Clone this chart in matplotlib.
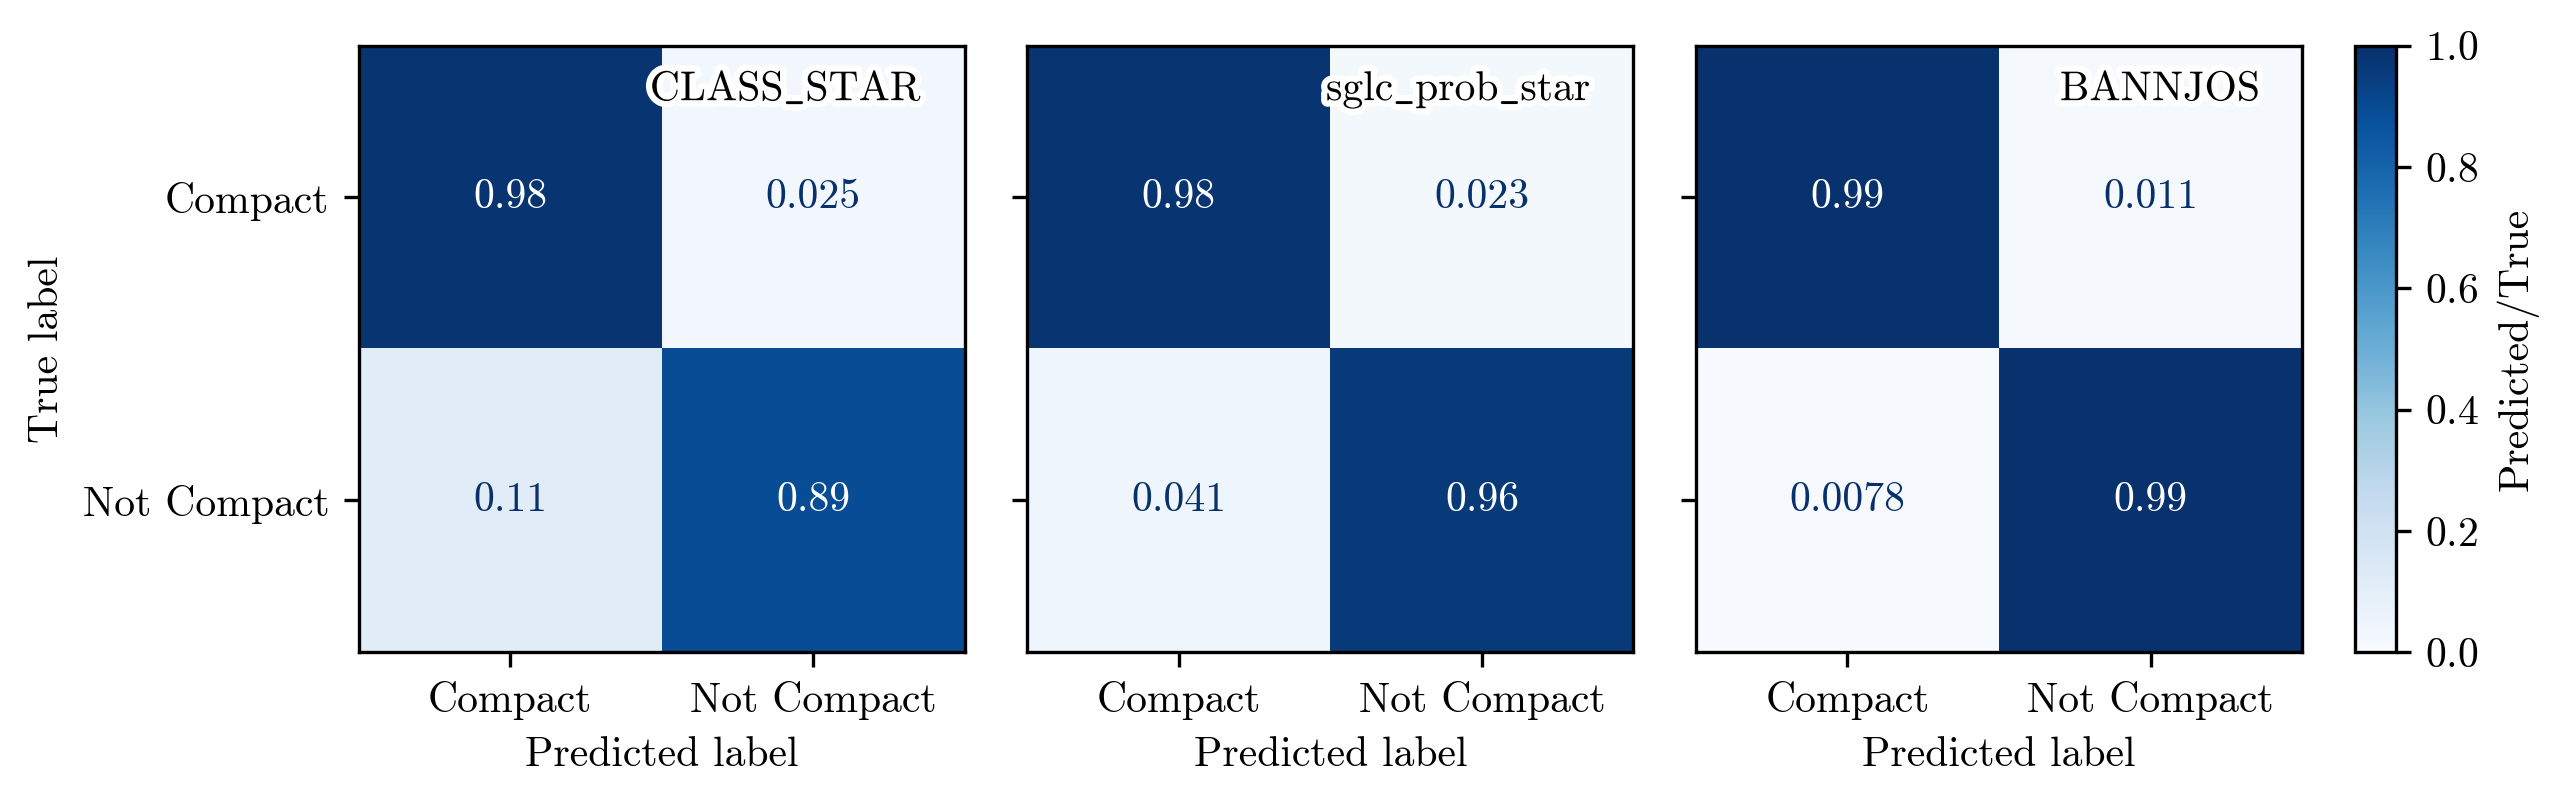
import numpy as np
import matplotlib
matplotlib.use("Agg")
import matplotlib.pyplot as plt
import matplotlib.patheffects as pe

plt.rcParams["font.family"] = ["cmr10", "DejaVu Serif"]
plt.rcParams["mathtext.fontset"] = "cm"
plt.rcParams["axes.formatter.use_mathtext"] = True
plt.rcParams["font.size"] = 10

classes = ["Compact", "Not Compact"]
names = ["CLASS_STAR", "sglc_prob_star", "BANNJOS"]

cm_class_star = np.array([[0.98, 0.025], [0.11, 0.89]])
cm_sglc = np.array([[0.98, 0.023], [0.041, 0.96]])
cm_bannjos = np.array([[0.99, 0.011], [0.0078, 0.99]])
matrices = [cm_class_star, cm_sglc, cm_bannjos]

cmap = plt.get_cmap("Blues")

fig = plt.figure(figsize=(2567 / 300, 803 / 300), dpi=300)
lefts = [0.139, 0.3995, 0.66]
axes = [fig.add_axes([l, 0.188, 0.2375, 0.755]) for l in lefts]

for i, (ax, cm, name) in enumerate(zip(axes, matrices, names)):
    im = ax.imshow(cm, cmap=cmap, vmin=0, vmax=1, interpolation="nearest")
    for r in range(cm.shape[0]):
        for c in range(cm.shape[1]):
            v = cm[r, c]
            col = "white" if v > 0.5 else cmap(1.0)
            ax.text(c, r, format(v, ".2g"), ha="center", va="center", color=col)
    ax.set_xticks(range(len(classes)))
    ax.set_xticklabels(classes)
    ax.set_yticks(range(len(classes)))
    if i == 0:
        ax.set_yticklabels(classes)
        ax.set_ylabel("True label")
    else:
        ax.set_yticklabels([])
    ax.set_xlabel("Predicted label")

    # model name with a white halo
    label = r"$\mathrm{" + name.replace("_", r"\_") + "}$"
    ax.text(0.93, 0.91, label, transform=ax.transAxes, ha="right",
            va="baseline", color="black", fontsize=10,
            path_effects=[pe.withStroke(linewidth=3, foreground="white")])

cax = fig.add_axes([0.9175, 0.188, 0.016, 0.755])
cb = fig.colorbar(im, cax=cax)
cb.set_label("Predicted/True")
cb.set_ticks([0, 0.2, 0.4, 0.6, 0.8, 1.0])

fig.savefig("out.png", dpi=300)
